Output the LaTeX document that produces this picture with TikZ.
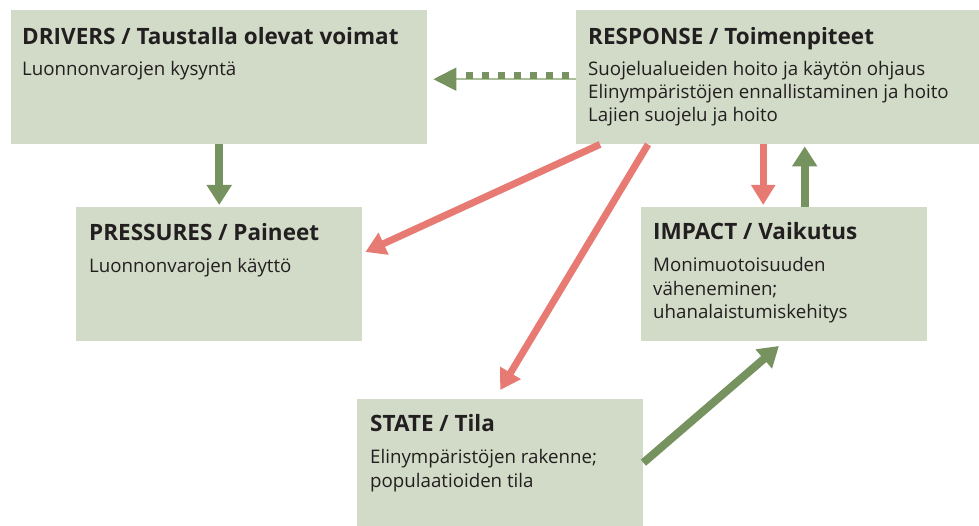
\documentclass[tikz,border=0pt]{standalone}
\usepackage{fontspec}
\setmainfont{Open Sans}
\usetikzlibrary{arrows.meta,calc}
\definecolor{boxfill}{HTML}{D1DBC7}
\definecolor{arrgreen}{HTML}{76925E}
\definecolor{arrred}{HTML}{E77B74}
\definecolor{dotline}{HTML}{A9BF97}
\definecolor{txt}{HTML}{231F20}
\tikzset{
 box/.style={fill=boxfill, draw=none, anchor=north west, inner sep=0pt},
 ttl/.style={anchor=base west, inner sep=0pt, font=\fontsize{22.5}{26}\selectfont\bfseries, text=txt},
 bdy/.style={anchor=base west, inner sep=0pt, font=\fontsize{18.7}{22}\selectfont, text=txt},
 garrow/.style={draw=arrgreen, line width=8pt, -{Triangle[width=24pt,length=20pt,fill=arrgreen]}},
 rarrow/.style={draw=arrred, line width=7pt, -{Triangle[width=23pt,length=20pt,fill=arrred]}},
}
\begin{document}
\begin{tikzpicture}[x=1pt,y=-1pt]
\useasboundingbox (0,0) rectangle (979,526);
% boxes
\node[box, minimum width=416pt, minimum height=134pt] (drv) at (11,10) {};
\node[box, minimum width=403pt, minimum height=134pt] (res) at (576,10) {};
\node[box, minimum width=286pt, minimum height=134pt] (prs) at (76,207) {};
\node[box, minimum width=286pt, minimum height=134pt] (imp) at (641,207) {};
\node[box, minimum width=286pt, minimum height=127pt] (sta) at (357,399) {};
% texts
\node[ttl] (drvT) at ($(drv.north west)+(11,35)$) {DRIVERS / Taustalla olevat voimat};
\node[bdy] (drvB) at ($(drv.north west)+(11,66)$) {Luonnonvarojen kysyntä};
\node[ttl] (resT) at ($(res.north west)+(12,35)$) {RESPONSE / Toimenpiteet};
\node[bdy] (resB1) at ($(res.north west)+(12,66)$) {Suojelualueiden hoito ja käytön ohjaus};
\node[bdy] (resB2) at ($(res.north west)+(12,89)$) {Elinympäristöjen ennallistaminen ja hoito};
\node[bdy] (resB3) at ($(res.north west)+(12,112)$) {Lajien suojelu ja hoito};
\node[ttl] (prsT) at ($(prs.north west)+(13,34)$) {PRESSURES / Paineet};
\node[bdy] (prsB) at ($(prs.north west)+(13,66)$) {Luonnonvarojen käyttö};
\node[ttl] (impT) at ($(imp.north west)+(12,33)$) {IMPACT / Vaikutus};
\node[bdy] (impB1) at ($(imp.north west)+(12,65)$) {Monimuotoisuuden};
\node[bdy] (impB2) at ($(imp.north west)+(12,89)$) {väheneminen;};
\node[bdy] (impB3) at ($(imp.north west)+(12,112)$) {uhanalaistumiskehitys};
\node[ttl] (staT) at ($(sta.north west)+(13,32)$) {STATE / Tila};
\node[bdy] (staB1) at ($(sta.north west)+(13,64)$) {Elinympäristöjen rakenne;};
\node[bdy] (staB2) at ($(sta.north west)+(13,88)$) {populaatioiden tila};
% arrows
\draw[garrow, shorten >=2pt] (drv.south -| prs.north) -- (prs.north);
\draw[draw=dotline, line width=2pt, -{Triangle[width=23pt,length=23pt,fill=arrgreen,color=arrgreen]}, shorten >=6pt] ([yshift=-2]res.west) -- ([yshift=-2]res.west -| drv.east);
\draw[arrgreen, line width=7pt, dash pattern=on 7pt off 9pt] ($(res.west)+(-7,-2)$) -- ($(res.west -| drv.east)+(38,-2)$);
\draw[rarrow, shorten >=0pt] ($(res.south west)+(24,0)$) -- ($(prs.north east)+(3,45)$);
\draw[rarrow] ($(res.south west)+(72,0)$) -- ($(sta.north)+(0,-9)$);
\draw[rarrow, shorten >=2pt] ([xshift=-21]imp.north |- res.south) -- ([xshift=-21]imp.north);
\draw[garrow, shorten >=2pt] ([xshift=20.5]imp.north) -- ([xshift=20.5]imp.north |- res.south);
\draw[garrow, shorten >=7pt] (sta.east) -- (imp.south);
\end{tikzpicture}
\end{document}
